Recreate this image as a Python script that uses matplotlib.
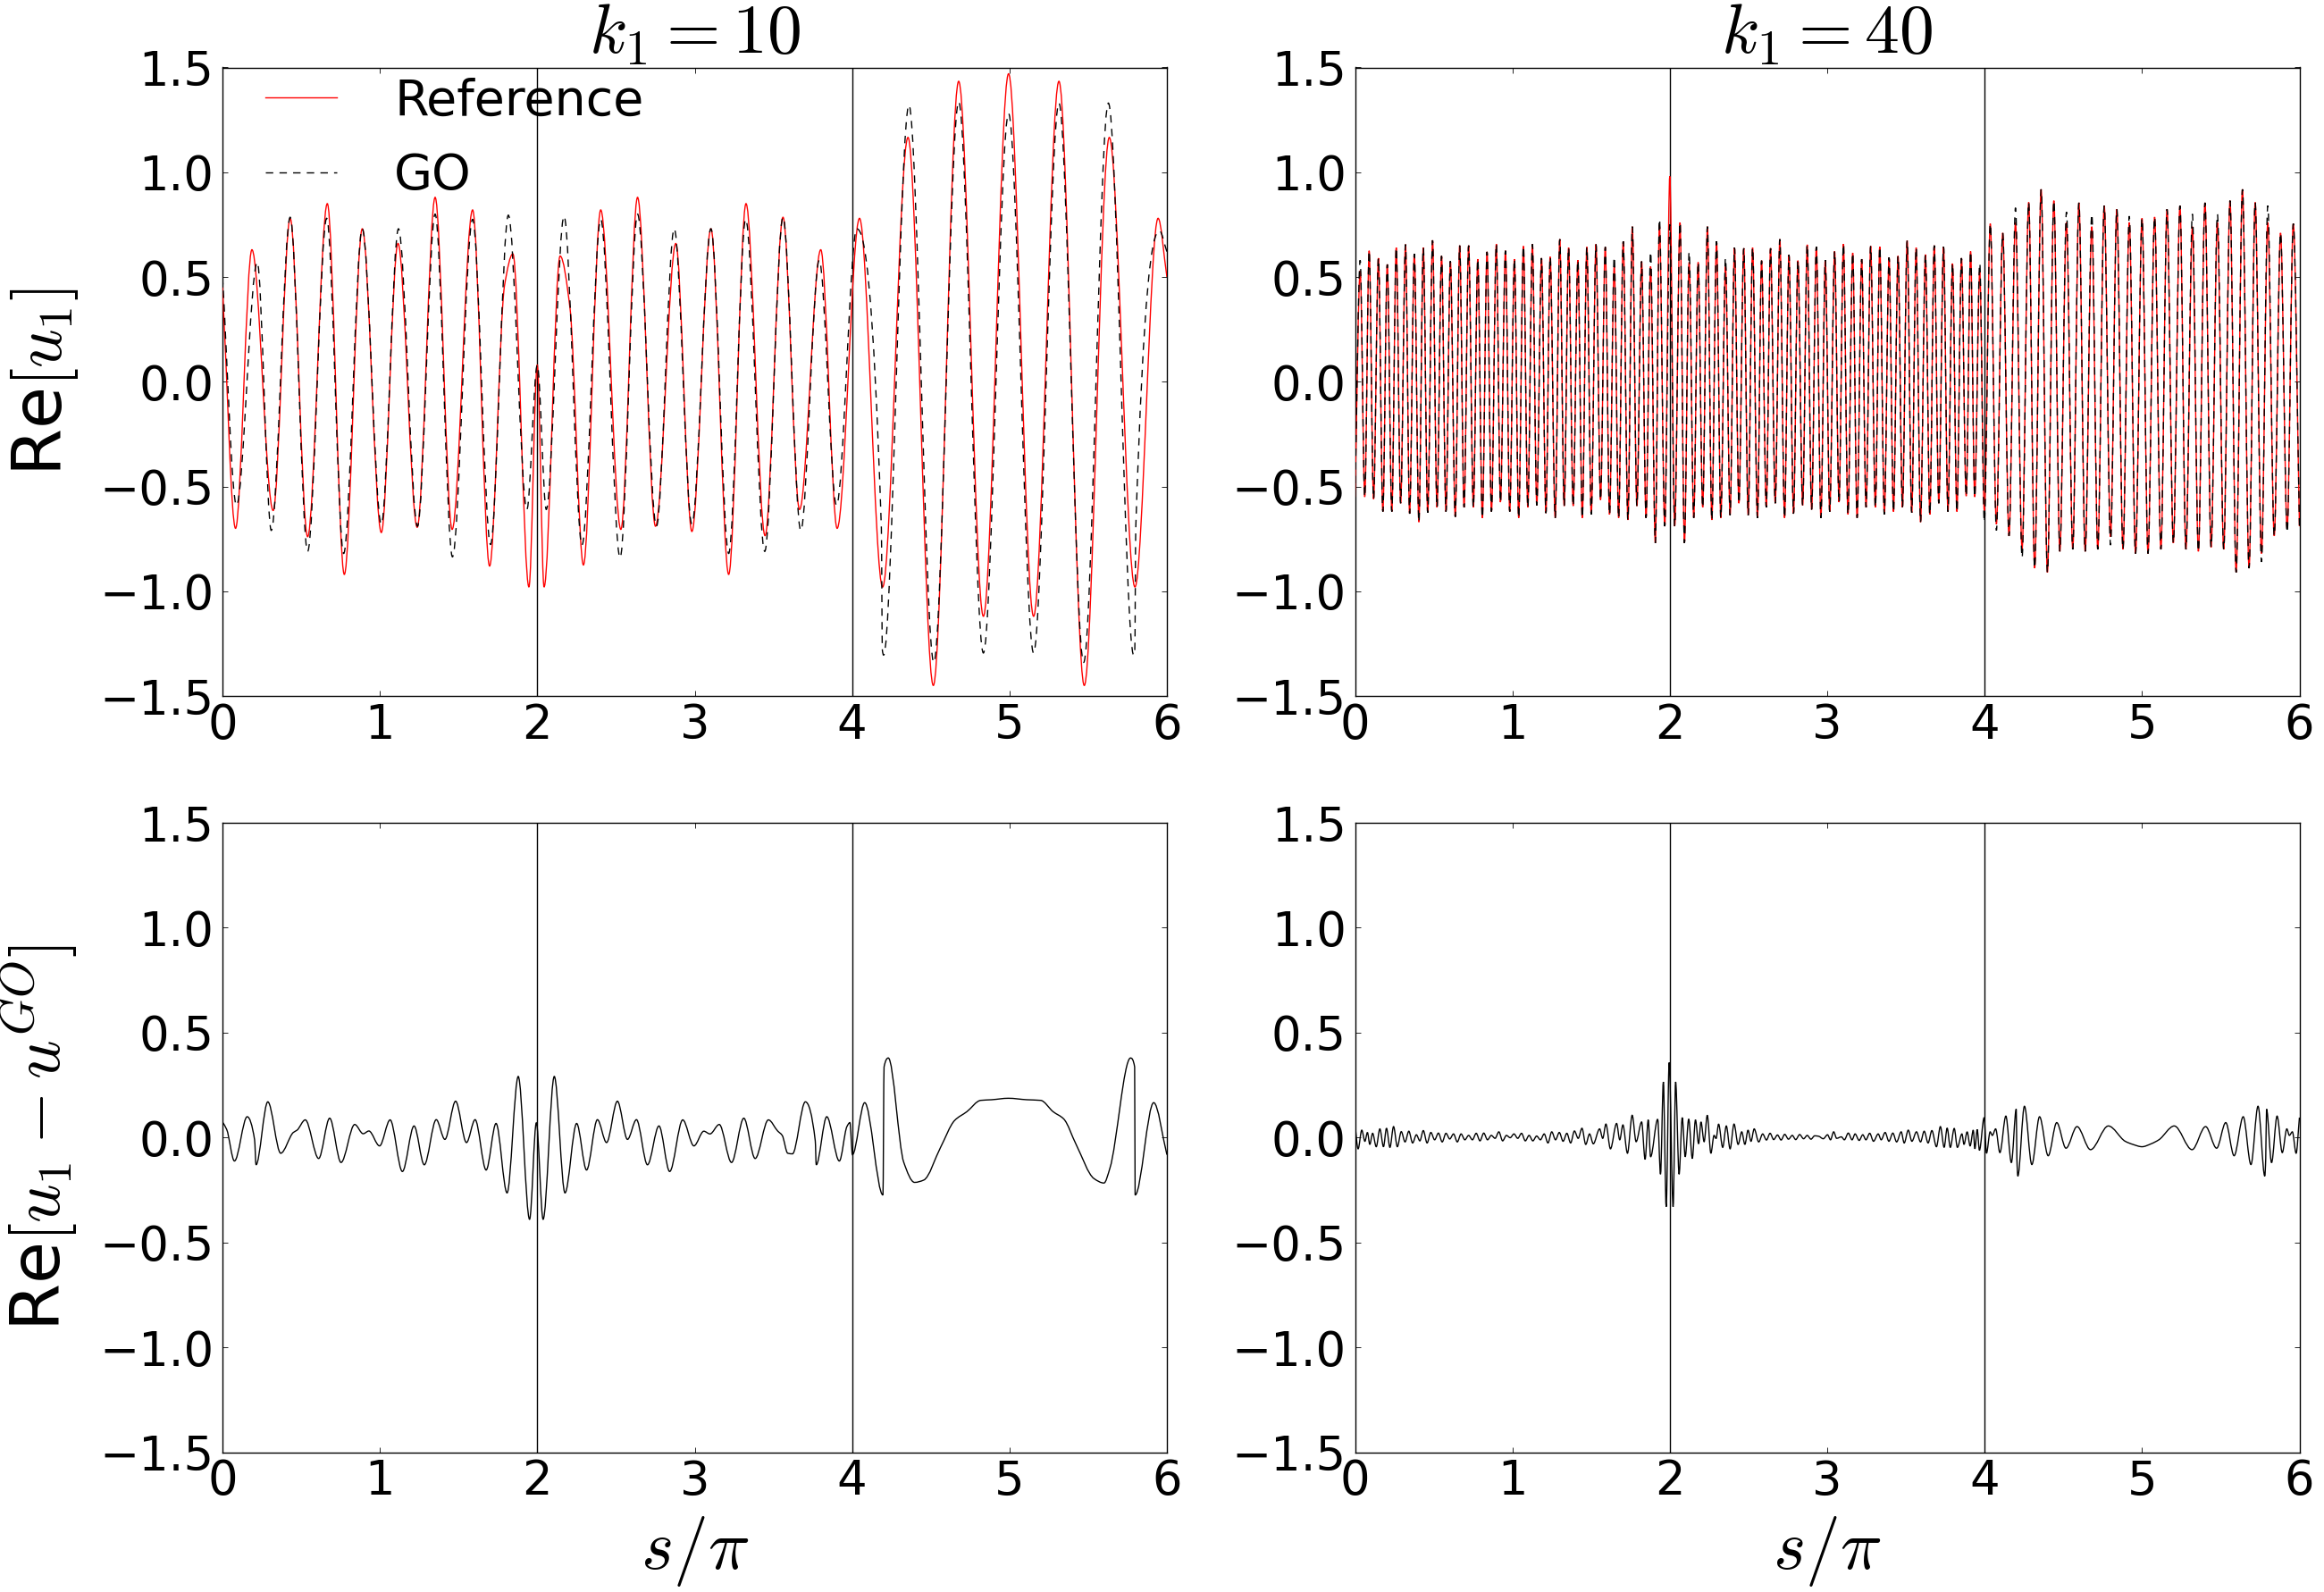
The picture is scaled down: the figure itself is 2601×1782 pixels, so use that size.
import numpy as np
import matplotlib
matplotlib.use("Agg")
import matplotlib.pyplot as plt
from matplotlib.path import Path
from matplotlib.patches import PathPatch
from matplotlib.lines import Line2D

# ─── Data (s/pi, value) ──────────────────────────────────────────────────────
# k1 = 10, Re[u1]: reference solution (red) and GO approximation (black dashed)
ref10_pts = [
    (0.000, 0.45), (0.083, -0.70), (0.187, 0.63), (0.322, -0.615), (0.430, 0.78),
    (0.541, -0.74), (0.666, 0.85), (0.774, -0.92), (0.888, 0.73), (1.009, -0.72),
    (1.115, 0.66), (1.237, -0.695), (1.351, 0.88), (1.459, -0.705), (1.589, 0.82),
    (1.697, -0.88), (1.792, 0.46), (1.845, 0.61), (1.947, -0.98), (2.000, 0.08),
    (2.043, -0.98), (2.145, 0.60), (2.208, 0.35), (2.293, -0.875), (2.403, 0.82),
    (2.531, -0.705), (2.637, 0.88), (2.751, -0.69), (2.880, 0.66), (2.982, -0.715),
    (3.103, 0.73), (3.216, -0.92), (3.326, 0.85), (3.447, -0.735), (3.561, 0.785),
    (3.666, -0.61), (3.801, 0.63), (3.905, -0.70), (4.047, 0.78), (4.194, -0.98),
    (4.355, 1.166), (4.516, -1.45), (4.677, 1.434), (4.834, -1.12), (4.994, 1.47),
    (5.153, -1.12), (5.314, 1.434), (5.475, -1.45), (5.634, 1.166), (5.797, -0.98),
    (5.944, 0.78), (6.000, 0.50),
]
go10_pts = [
    (0.000, 0.50), (0.089, -0.59), (0.221, 0.57), (0.310, -0.71), (0.430, 0.785),
    (0.541, -0.81), (0.662, 0.78), (0.770, -0.82), (0.888, 0.73), (1.009, -0.68),
    (1.118, 0.73), (1.239, -0.69), (1.351, 0.80), (1.461, -0.836), (1.589, 0.775),
    (1.703, -0.777), (1.816, 0.795), (1.934, -0.61), (2.000, 0.08), (2.057, -0.61),
    (2.170, 0.79), (2.284, -0.78), (2.403, 0.775), (2.526, -0.84), (2.637, 0.80),
    (2.757, -0.69), (2.870, 0.73), (2.982, -0.68), (3.103, 0.73), (3.216, -0.82),
    (3.324, 0.775), (3.445, -0.81), (3.561, 0.785), (3.674, -0.71), (3.791, 0.58),
    (3.901, -0.59), (4.030, 0.73), (4.186, -0.70), (4.192, -1.28), (4.200, -1.305),
    (4.361, 1.32), (4.519, -1.34), (4.677, 1.336), (4.834, -1.295), (4.994, 1.28),
    (5.153, -1.295), (5.314, 1.33), (5.471, -1.34), (5.628, 1.33), (5.789, -1.305),
    (5.796, -1.28), (5.802, -0.70), (5.953, 0.72), (6.000, 0.62),
]

# k1 = 10, Re[u1 - u^GO]
diff10_pts = [
    (0.000, 0.074), (0.027, 0.038), (0.076, -0.112), (0.157, 0.099), (0.204, -0.011),
    (0.213, -0.13), (0.288, 0.17), (0.370, -0.075), (0.450, 0.024), (0.474, 0.035),
    (0.526, 0.084), (0.611, -0.10), (0.681, 0.092), (0.753, -0.119), (0.840, 0.062),
    (0.894, 0.018), (0.930, 0.031), (0.998, -0.04), (1.065, 0.084), (1.143, -0.162),
    (1.217, 0.055), (1.282, -0.13), (1.358, 0.085), (1.413, -0.009), (1.481, 0.173),
    (1.550, -0.024), (1.605, 0.085), (1.675, -0.155), (1.738, 0.067), (1.808, -0.264),
    (1.879, 0.291), (1.951, -0.39), (1.994, 0.07), (2.037, -0.39), (2.108, 0.291),
    (2.176, -0.264), (2.250, 0.067), (2.313, -0.155), (2.382, 0.085), (2.440, -0.024),
    (2.509, 0.173), (2.573, -0.009), (2.630, 0.085), (2.700, -0.13), (2.773, 0.055),
    (2.841, -0.162), (2.924, 0.084), (2.995, -0.04), (3.058, 0.03), (3.097, 0.017),
    (3.156, 0.062), (3.234, -0.119), (3.312, 0.092), (3.384, -0.10), (3.468, 0.084),
    (3.527, 0.031), (3.556, 0.01), (3.591, -0.075), (3.621, -0.078), (3.703, 0.17),
    (3.766, -0.016), (3.772, -0.13), (3.839, 0.099), (3.919, -0.112), (3.967, 0.052),
    (3.986, 0.071), (4.002, -0.082), (4.080, 0.166), (4.196, -0.274), (4.203, 0.336),
    (4.230, 0.379), (4.328, -0.118), (4.397, -0.214), (4.455, -0.203), (4.562, -0.047),
    (4.651, 0.081), (4.729, 0.123), (4.817, 0.177), (4.886, 0.18), (4.993, 0.187),
    (5.110, 0.18), (5.198, 0.177), (5.277, 0.123), (5.345, 0.088), (5.423, -0.033),
    (5.537, -0.196), (5.600, -0.217), (5.638, -0.146), (5.769, 0.379), (5.795, 0.336),
    (5.798, -0.274), (5.916, 0.166), (6.000, -0.082),
]

# k1 = 40, Re[u1]: reference (red)
ref40_pts = [
    (0.000, -0.55), (0.033, 0.53), (0.062, -0.55), (0.090, 0.625), (0.118, -0.56),
    (0.149, 0.59), (0.177, -0.62), (0.205, 0.56), (0.234, -0.62), (0.262, 0.64),
    (0.290, -0.58), (0.321, 0.655), (0.347, -0.63), (0.377, 0.61), (0.406, -0.67),
    (0.434, 0.64), (0.462, -0.625), (0.493, 0.675), (0.521, -0.60), (0.550, 0.60),
    (0.578, -0.62), (0.606, 0.575), (0.637, -0.645), (0.665, 0.65), (0.693, -0.60),
    (0.722, 0.65), (0.752, -0.60), (0.780, 0.585), (0.809, -0.65), (0.839, 0.62),
    (0.867, -0.62), (0.898, 0.657), (0.924, -0.575), (0.956, 0.625), (0.983, -0.62),
    (1.013, 0.585), (1.040, -0.65), (1.070, 0.647), (1.098, -0.60), (1.127, 0.656),
    (1.155, -0.59), (1.185, 0.59), (1.213, -0.627), (1.240, 0.596), (1.272, -0.65),
    (1.301, 0.68), (1.329, -0.593), (1.357, 0.64), (1.386, -0.593), (1.416, 0.58),
    (1.444, -0.65), (1.473, 0.643), (1.501, -0.634), (1.531, 0.656), (1.560, -0.564),
    (1.590, 0.643), (1.617, -0.634), (1.647, 0.55), (1.675, -0.65), (1.704, 0.67),
    (1.734, -0.66), (1.762, 0.74), (1.791, -0.593), (1.821, 0.574), (1.849, -0.65),
    (1.878, 0.55), (1.908, -0.77), (1.934, 0.747), (1.968, -0.69), (2.000, 0.98),
    (2.031, -0.69), (2.065, 0.76), (2.093, -0.77), (2.123, 0.57), (2.152, -0.65),
    (2.180, 0.57), (2.209, -0.60), (2.239, 0.74), (2.267, -0.66), (2.297, 0.67),
    (2.324, -0.65), (2.354, 0.55), (2.383, -0.637), (2.411, 0.64), (2.439, -0.58),
    (2.470, 0.637), (2.498, -0.637), (2.526, 0.64), (2.557, -0.65), (2.583, 0.578),
    (2.613, -0.60), (2.640, 0.637), (2.670, -0.58), (2.699, 0.68), (2.729, -0.65),
    (2.757, 0.605), (2.786, -0.63), (2.814, 0.578), (2.844, -0.59), (2.873, 0.654),
    (2.901, -0.61), (2.931, 0.644), (2.960, -0.65), (2.988, 0.58), (3.016, -0.62),
    (3.047, 0.622), (3.075, -0.575), (3.103, 0.657), (3.132, -0.633), (3.162, 0.615),
    (3.190, -0.65), (3.219, 0.585), (3.247, -0.60), (3.276, 0.647), (3.306, -0.60),
    (3.334, 0.644), (3.363, -0.633), (3.393, 0.593), (3.421, -0.62), (3.450, 0.60),
    (3.478, -0.60), (3.508, 0.673), (3.537, -0.625), (3.565, 0.64), (3.593, -0.67),
    (3.624, 0.607), (3.652, -0.634), (3.680, 0.65), (3.709, -0.58), (3.739, 0.644),
    (3.767, -0.62), (3.796, 0.564), (3.824, -0.62), (3.853, 0.59), (3.883, -0.546),
    (3.911, 0.622), (3.937, -0.55), (3.969, 0.527), (3.998, -0.615), (4.036, 0.754),
    (4.075, -0.68), (4.115, 0.71), (4.155, -0.736), (4.196, 0.76), (4.238, -0.80),
    (4.280, 0.856), (4.318, -0.89), (4.359, 0.918), (4.399, -0.91), (4.440, 0.864),
    (4.478, -0.81), (4.520, 0.76), (4.560, -0.80), (4.599, 0.854), (4.639, -0.81),
    (4.681, 0.74), (4.719, -0.80), (4.760, 0.84), (4.800, -0.74), (4.840, 0.823),
    (4.879, -0.80), (4.919, 0.76), (4.959, -0.82), (5.000, 0.78), (5.038, -0.82),
    (5.080, 0.786), (5.120, -0.80), (5.159, 0.823), (5.199, -0.77), (5.241, 0.84),
    (5.279, -0.80), (5.320, 0.74), (5.358, -0.81), (5.400, 0.854), (5.439, -0.79),
    (5.479, 0.76), (5.519, -0.80), (5.559, 0.864), (5.598, -0.91), (5.638, 0.918),
    (5.680, -0.89), (5.719, 0.856), (5.759, -0.82), (5.799, 0.76), (5.840, -0.736),
    (5.880, 0.71), (5.922, -0.70), (5.961, 0.754), (6.000, -0.69),
]
# k1 = 40, Re[u1]: GO (black dashed)
go40_pts = [
    (0.000, -0.55), (0.033, 0.58), (0.062, -0.55), (0.090, 0.625), (0.118, -0.56),
    (0.149, 0.59), (0.177, -0.62), (0.205, 0.56), (0.234, -0.62), (0.262, 0.64),
    (0.290, -0.58), (0.321, 0.655), (0.347, -0.63), (0.377, 0.61), (0.406, -0.67),
    (0.434, 0.64), (0.462, -0.625), (0.493, 0.675), (0.521, -0.60), (0.550, 0.60),
    (0.578, -0.62), (0.606, 0.575), (0.637, -0.645), (0.665, 0.65), (0.693, -0.60),
    (0.722, 0.65), (0.752, -0.60), (0.780, 0.585), (0.809, -0.65), (0.839, 0.62),
    (0.867, -0.62), (0.898, 0.657), (0.924, -0.575), (0.956, 0.625), (0.983, -0.62),
    (1.013, 0.585), (1.040, -0.65), (1.070, 0.647), (1.098, -0.60), (1.127, 0.656),
    (1.155, -0.59), (1.185, 0.59), (1.213, -0.627), (1.240, 0.596), (1.272, -0.65),
    (1.301, 0.68), (1.329, -0.593), (1.357, 0.64), (1.386, -0.593), (1.416, 0.58),
    (1.444, -0.65), (1.473, 0.643), (1.501, -0.634), (1.531, 0.656), (1.560, -0.564),
    (1.590, 0.643), (1.617, -0.634), (1.647, 0.596), (1.675, -0.65), (1.704, 0.67),
    (1.734, -0.66), (1.762, 0.74), (1.791, -0.593), (1.821, 0.574), (1.849, -0.65),
    (1.878, 0.62), (1.908, -0.77), (1.934, 0.776), (1.968, -0.69), (2.000, 0.75),
    (2.031, -0.69), (2.065, 0.76), (2.093, -0.77), (2.123, 0.62), (2.152, -0.65),
    (2.180, 0.57), (2.209, -0.60), (2.239, 0.74), (2.267, -0.66), (2.297, 0.67),
    (2.324, -0.65), (2.354, 0.59), (2.383, -0.637), (2.411, 0.64), (2.439, -0.58),
    (2.470, 0.637), (2.498, -0.637), (2.526, 0.64), (2.557, -0.65), (2.583, 0.578),
    (2.613, -0.60), (2.640, 0.637), (2.670, -0.58), (2.699, 0.68), (2.729, -0.65),
    (2.757, 0.605), (2.786, -0.63), (2.814, 0.578), (2.844, -0.59), (2.873, 0.654),
    (2.901, -0.61), (2.931, 0.644), (2.960, -0.65), (2.988, 0.58), (3.016, -0.62),
    (3.047, 0.622), (3.075, -0.575), (3.103, 0.657), (3.132, -0.633), (3.162, 0.615),
    (3.190, -0.65), (3.219, 0.585), (3.247, -0.60), (3.276, 0.647), (3.306, -0.60),
    (3.334, 0.644), (3.363, -0.633), (3.393, 0.593), (3.421, -0.62), (3.450, 0.60),
    (3.478, -0.60), (3.508, 0.673), (3.537, -0.625), (3.565, 0.64), (3.593, -0.67),
    (3.624, 0.607), (3.652, -0.634), (3.680, 0.65), (3.709, -0.58), (3.739, 0.644),
    (3.767, -0.62), (3.796, 0.564), (3.824, -0.62), (3.853, 0.59), (3.883, -0.546),
    (3.911, 0.622), (3.937, -0.55), (3.969, 0.565), (3.998, -0.67), (4.036, 0.754),
    (4.075, -0.71), (4.115, 0.71), (4.155, -0.736), (4.196, 0.83), (4.238, -0.84),
    (4.280, 0.856), (4.318, -0.89), (4.359, 0.918), (4.399, -0.91), (4.440, 0.864),
    (4.478, -0.81), (4.520, 0.81), (4.560, -0.80), (4.599, 0.854), (4.639, -0.81),
    (4.681, 0.80), (4.719, -0.80), (4.760, 0.84), (4.800, -0.78), (4.840, 0.823),
    (4.879, -0.80), (4.919, 0.79), (4.959, -0.82), (5.000, 0.78), (5.038, -0.82),
    (5.080, 0.786), (5.120, -0.80), (5.159, 0.823), (5.199, -0.77), (5.241, 0.84),
    (5.279, -0.80), (5.320, 0.80), (5.358, -0.81), (5.400, 0.854), (5.439, -0.79),
    (5.479, 0.80), (5.519, -0.80), (5.559, 0.864), (5.598, -0.91), (5.638, 0.918),
    (5.680, -0.89), (5.719, 0.856), (5.759, -0.86), (5.799, 0.84), (5.840, -0.736),
    (5.880, 0.71), (5.922, -0.72), (5.961, 0.754), (6.000, -0.69),
]

# k1 = 40, Re[u1 - u^GO]
diff40_pts = [
    (0.000, 0.060), (0.020, -0.054), (0.043, 0.035), (0.063, -0.018), (0.079, 0.024),
    (0.094, -0.033), (0.112, 0.020), (0.135, -0.044), (0.158, 0.041), (0.181, -0.044),
    (0.200, 0.044), (0.222, -0.047), (0.245, 0.052), (0.269, -0.044), (0.294, 0.028),
    (0.318, -0.021), (0.342, 0.030), (0.366, -0.026), (0.390, 0.013), (0.412, -0.016),
    (0.434, 0.033), (0.458, -0.026), (0.482, 0.024), (0.506, -0.011), (0.530, 0.021),
    (0.554, -0.021), (0.578, 0.020), (0.602, -0.007), (0.626, 0.017), (0.650, -0.021),
    (0.674, 0.017), (0.698, -0.011), (0.722, 0.010), (0.746, -0.011), (0.770, 0.020),
    (0.794, -0.016), (0.818, 0.021), (0.842, -0.011), (0.866, 0.010), (0.890, -0.004),
    (0.914, 0.027), (0.938, -0.016), (0.962, 0.010), (0.986, -0.001), (1.010, 0.017),
    (1.034, -0.004), (1.058, 0.020), (1.082, -0.016), (1.106, 0.010), (1.130, -0.016),
    (1.154, 0.007), (1.178, -0.011), (1.202, 0.017), (1.226, -0.026), (1.250, 0.027),
    (1.274, -0.011), (1.298, 0.024), (1.322, -0.018), (1.346, 0.020), (1.370, -0.026),
    (1.394, 0.031), (1.418, -0.004), (1.442, 0.044), (1.466, -0.033), (1.490, 0.017),
    (1.514, -0.030), (1.554, 0.041), (1.574, -0.004), (1.594, 0.064), (1.623, -0.054),
    (1.662, 0.067), (1.682, -0.011), (1.702, 0.060), (1.731, -0.075), (1.761, 0.106),
    (1.786, -0.020), (1.821, 0.074), (1.843, -0.104), (1.863, 0.084), (1.878, -0.092),
    (1.923, 0.087), (1.941, -0.175), (1.959, 0.265), (1.977, -0.330), (1.996, 0.357),
    (2.021, -0.330), (2.037, 0.265), (2.059, -0.175), (2.079, 0.095), (2.098, -0.092),
    (2.120, 0.088), (2.143, -0.100), (2.163, 0.084), (2.183, -0.030), (2.198, 0.074),
    (2.218, -0.020), (2.238, 0.106), (2.261, -0.075), (2.281, 0.010), (2.294, -0.005),
    (2.310, 0.064), (2.336, -0.047), (2.359, 0.055), (2.383, -0.054), (2.408, 0.064),
    (2.434, -0.033), (2.457, 0.027), (2.477, -0.033), (2.497, 0.035), (2.516, -0.018),
    (2.536, 0.041), (2.565, -0.021), (2.590, 0.017), (2.614, -0.012), (2.637, 0.020),
    (2.660, -0.010), (2.684, 0.012), (2.707, -0.012), (2.730, 0.015), (2.754, -0.008),
    (2.778, 0.010), (2.800, -0.010), (2.825, 0.014), (2.850, -0.006), (2.873, 0.010),
    (2.897, -0.008), (2.920, 0.008), (2.945, 0.006), (2.975, -0.006), (3.002, 0.013),
    (3.021, -0.011), (3.041, 0.027), (3.060, -0.004), (3.090, 0.003), (3.109, -0.011),
    (3.134, 0.021), (3.158, -0.011), (3.177, 0.017), (3.203, -0.014), (3.226, 0.013),
    (3.246, -0.011), (3.270, 0.020), (3.294, -0.018), (3.324, 0.017), (3.343, -0.011),
    (3.368, 0.024), (3.392, -0.018), (3.417, 0.021), (3.441, -0.021), (3.470, 0.027),
    (3.489, -0.026), (3.515, 0.035), (3.538, -0.018), (3.567, 0.027), (3.593, -0.021),
    (3.616, 0.030), (3.641, -0.026), (3.665, 0.033), (3.694, -0.044), (3.719, 0.052),
    (3.743, -0.047), (3.762, 0.045), (3.782, -0.047), (3.807, 0.043), (3.827, -0.047),
    (3.856, 0.017), (3.869, -0.033), (3.889, 0.027), (3.908, -0.040), (3.928, 0.035),
    (3.938, -0.054), (3.953, 0.038), (3.967, -0.061), (3.997, 0.095), (4.012, -0.075),
    (4.035, 0.027), (4.049, 0.010), (4.070, 0.041), (4.097, -0.072), (4.135, 0.102),
    (4.170, -0.120), (4.201, 0.135), (4.205, -0.100), (4.211, -0.184), (4.253, 0.149),
    (4.300, -0.129), (4.349, 0.099), (4.404, -0.087), (4.458, 0.071), (4.517, -0.051),
    (4.587, 0.052), (4.673, -0.058), (4.786, 0.055), (4.893, -0.018), (4.942, -0.033),
    (5.000, -0.044), (5.058, -0.030), (5.107, -0.011), (5.205, 0.055), (5.318, -0.058),
    (5.404, 0.052), (5.474, -0.051), (5.532, 0.071), (5.585, -0.087), (5.643, 0.099),
    (5.692, -0.129), (5.737, 0.149), (5.780, -0.184), (5.786, -0.100), (5.791, 0.135),
    (5.823, -0.120), (5.858, 0.102), (5.891, -0.072), (5.920, 0.041), (5.936, 0.010),
    (5.955, 0.027), (5.979, -0.075), (6.000, 0.095),
]

x_ticks = [0, 1, 2, 3, 4, 5, 6]
y_ticks = [-1.5, -1.0, -0.5, 0.0, 0.5, 1.0, 1.5]
breaks = [2, 4]
titles = [r"$k_1 = 10$", r"$k_1 = 40$"]

# ─── Style ───────────────────────────────────────────────────────────────────
plt.rcParams.update({
    "font.family": "DejaVu Sans",
    "mathtext.fontset": "cm",
    "xtick.direction": "in", "ytick.direction": "in",
    "xtick.top": True, "ytick.right": True,
    "xtick.major.size": 4, "ytick.major.size": 4,
    "xtick.major.width": 0.6, "ytick.major.width": 0.6,
    "xtick.major.pad": 5, "ytick.major.pad": 7,
    "xtick.labelsize": 38, "ytick.labelsize": 38,
    "axes.linewidth": 1.0,
})
LEGEND_FS = 40
TITLE_FS = 56
LABEL_FS = 55
XLABEL_FS = 56
DASH = (0, (6, 5))


def smooth_path(pts):
    """Cubic Bezier path through the read points (flat at local extrema)."""
    x, y = np.asarray(pts, float).T
    h = np.diff(x)
    d = np.diff(y) / h
    m = np.zeros_like(y)
    m[0], m[-1] = d[0], d[-1]
    for k in range(1, len(x) - 1):
        if d[k - 1] * d[k] > 0:
            w1 = 2 * h[k] + h[k - 1]
            w2 = h[k] + 2 * h[k - 1]
            m[k] = (w1 + w2) / (w1 / d[k - 1] + w2 / d[k])
    verts = [(x[0], y[0])]
    for k in range(len(x) - 1):
        verts += [(x[k] + h[k] / 3, y[k] + m[k] * h[k] / 3),
                  (x[k + 1] - h[k] / 3, y[k + 1] - m[k + 1] * h[k] / 3),
                  (x[k + 1], y[k + 1])]
    codes = [Path.MOVETO] + [Path.CURVE4] * (3 * (len(x) - 1))
    return Path(verts, codes)


def draw_curve(ax, pts, color, ls="-", lw=1.0):
    ax.add_patch(PathPatch(smooth_path(pts), fill=False, edgecolor=color,
                           linestyle=ls, linewidth=lw, zorder=3))


W, H = 2601, 1782
fig = plt.figure(figsize=(W / 100, H / 100), dpi=100, facecolor="white")


def px_axes(x0, y0, x1, y1):
    return fig.add_axes([x0 / W, 1 - y1 / H, (x1 - x0) / W, (y1 - y0) / H])


ax_tl = px_axes(249, 75.5, 1306, 779)
ax_tr = px_axes(1516.5, 75.5, 2573.5, 779)
ax_bl = px_axes(249, 921, 1306, 1625.5)
ax_br = px_axes(1516.5, 921, 2573.5, 1625.5)

for ax in (ax_tl, ax_tr, ax_bl, ax_br):
    ax.set_xlim(0, 6)
    ax.set_ylim(-1.5, 1.5)
    ax.set_xticks(x_ticks)
    ax.set_yticks(y_ticks)
    for b in breaks:
        ax.axvline(b, color="black", linewidth=1.0, zorder=2)

# top row: solutions
draw_curve(ax_tl, ref10_pts, "red")
draw_curve(ax_tl, go10_pts, "black", ls=DASH)
draw_curve(ax_tr, ref40_pts, "red")
draw_curve(ax_tr, go40_pts, "black", ls=DASH)

# bottom row: differences
draw_curve(ax_bl, diff10_pts, "black")
draw_curve(ax_br, diff40_pts, "black")

ax_tl.set_title(titles[0], fontsize=TITLE_FS, pad=8)
ax_tr.set_title(titles[1], fontsize=TITLE_FS, pad=8)

ax_tl.set_ylabel(r"Re$[u_1]$", fontsize=LABEL_FS)
ax_bl.set_ylabel(r"Re$[u_1 - u^{GO}]$", fontsize=LABEL_FS)
for ax in (ax_tl, ax_bl):
    ax.yaxis.set_label_coords(-0.150, 0.5)
for ax in (ax_bl, ax_br):
    ax.set_xlabel(r"$s/\pi$", fontsize=XLABEL_FS)
    ax.xaxis.set_label_coords(0.5, -0.098)

handles = [Line2D([], [], color="red", linewidth=1.0),
           Line2D([], [], color="black", linewidth=1.0, linestyle=DASH)]
ax_tl.legend(handles, ["Reference", "GO"], loc="upper left",
             bbox_to_anchor=(0.045, 0.984), frameon=False, fontsize=LEGEND_FS,
             handlelength=1.45, handletextpad=1.15, labelspacing=0.53,
             borderpad=0.0, borderaxespad=0.0)

fig.savefig("out.png", dpi=100, facecolor="white")
